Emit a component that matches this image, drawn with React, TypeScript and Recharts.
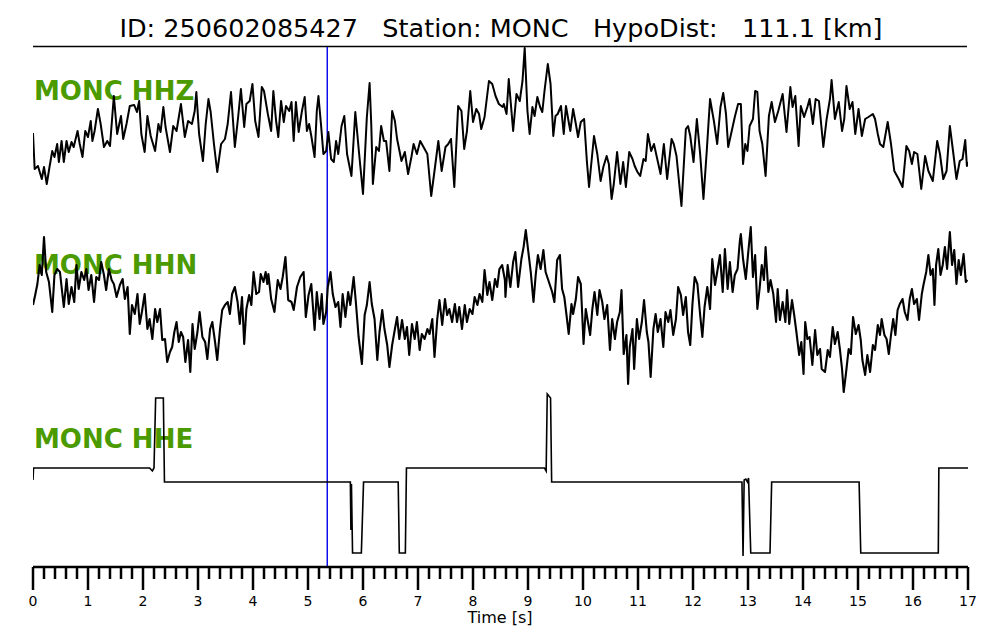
import { ComposedChart, Line, XAxis, YAxis, ReferenceLine, Customized } from 'recharts';

// MONC seismogram, event 250602085427, 17 s window
const stationTitle = 'ID: 250602085427   Station: MONC   HypoDist:   111.1 [km]';
const channelNames = ['MONC HHZ', 'MONC HHN', 'MONC HHE'];
const pickTime = 5.35;
const majorTicks = [0, 1, 2, 3, 4, 5, 6, 7, 8, 9, 10, 11, 12, 13, 14, 15, 16, 17];

// [time s, amplitude]
const hhz: [number, number][] = [
  [0.0, -5], [0.03, -41], [0.09, -38], [0.16, -51], [0.2, -39], [0.25, -56], [0.3, -39], [0.35, -23], [0.39, -29], [0.44, -16],
  [0.47, -34], [0.52, -13], [0.56, -34], [0.61, -13], [0.65, -24], [0.7, -14], [0.74, -19], [0.81, -3], [0.85, -16], [0.9, -29],
  [0.95, -3], [1.0, -9], [1.05, 7], [1.08, -13], [1.12, -3], [1.18, 19], [1.23, 4], [1.29, -19], [1.35, -13], [1.4, -18],
  [1.47, 32], [1.53, -6], [1.6, 12], [1.64, -11], [1.7, 4], [1.76, 22], [1.84, 23], [1.89, 16], [1.93, 27], [1.97, -6],
  [2.03, -24], [2.08, 12], [2.14, -8], [2.22, -23], [2.28, 4], [2.32, -4], [2.37, 21], [2.41, 1], [2.49, -24], [2.55, 2],
  [2.61, -3], [2.69, 24], [2.76, -9], [2.82, 7], [2.89, 4], [2.94, 17], [2.97, 36], [3.02, -6], [3.09, -33], [3.14, 4],
  [3.19, 29], [3.23, 16], [3.29, -16], [3.35, -44], [3.42, -16], [3.49, -11], [3.54, 4], [3.6, 36], [3.67, -19], [3.73, 11],
  [3.78, 39], [3.84, 1], [3.88, 24], [3.94, 27], [3.99, 44], [4.04, 7], [4.1, -9], [4.16, 41], [4.2, 37], [4.27, 14],
  [4.33, -3], [4.37, 37], [4.42, 7], [4.46, -9], [4.51, 27], [4.56, 6], [4.6, 22], [4.66, 17], [4.7, 26], [4.74, -13],
  [4.78, 26], [4.83, -4], [4.89, 17], [4.94, 31], [4.98, -3], [5.02, 4], [5.06, -8], [5.12, -29], [5.16, 17], [5.19, 32],
  [5.24, 1], [5.28, -26], [5.33, -23], [5.37, -4], [5.42, -31], [5.47, -34], [5.51, -13], [5.55, -26], [5.61, 2], [5.66, 12],
  [5.71, -26], [5.79, -48], [5.86, 16], [5.93, -26], [6.0, -66], [6.07, 11], [6.12, 45], [6.15, 4], [6.18, -56], [6.24, -19],
  [6.29, -23], [6.33, 2], [6.38, -13], [6.42, -13], [6.48, -43], [6.53, 17], [6.58, 7], [6.62, -11], [6.7, -33], [6.76, -24],
  [6.82, -46], [6.88, -29], [6.92, -16], [6.98, -26], [7.04, -13], [7.1, -19], [7.17, -26], [7.24, -68], [7.3, -43], [7.37, -13],
  [7.43, -43], [7.5, -19], [7.55, -16], [7.6, -11], [7.66, -59], [7.73, 22], [7.79, 17], [7.84, -21], [7.89, -3], [7.95, 37],
  [8.0, 6], [8.06, 19], [8.11, 14], [8.15, -1], [8.21, 11], [8.29, 47], [8.35, 44], [8.41, 32], [8.47, 24], [8.54, 21],
  [8.56, 24], [8.61, 14], [8.65, 49], [8.73, -3], [8.79, 34], [8.85, 27], [8.9, 47], [8.94, 80], [8.99, 17], [9.03, -6],
  [9.08, 21], [9.12, 12], [9.17, 31], [9.22, 21], [9.26, 16], [9.3, 37], [9.36, 64], [9.41, 44], [9.46, -8], [9.5, 12],
  [9.54, 14], [9.6, 22], [9.65, -6], [9.69, 22], [9.74, 6], [9.77, -3], [9.82, 19], [9.87, 4], [9.91, -9], [9.96, 6],
  [10.02, 9], [10.07, -33], [10.11, -59], [10.15, -36], [10.2, -8], [10.26, -26], [10.32, -53], [10.37, -39], [10.43, -28], [10.47, -36],
  [10.52, -71], [10.56, -56], [10.62, -24], [10.68, -56], [10.73, -34], [10.78, -59], [10.84, -24], [10.9, -31], [10.94, -38], [10.99, -44],
  [11.04, -48], [11.1, -31], [11.14, -33], [11.18, -6], [11.24, -23], [11.29, -16], [11.35, -31], [11.41, -46], [11.47, -16], [11.53, -51],
  [11.61, -11], [11.65, -16], [11.7, -28], [11.79, -78], [11.87, -1], [11.91, 2], [11.95, -8], [12.01, -34], [12.07, 9], [12.13, -26],
  [12.19, -71], [12.25, -23], [12.31, 29], [12.38, 7], [12.44, -16], [12.5, 21], [12.55, 35], [12.6, 14], [12.64, -19], [12.7, -4],
  [12.76, 11], [12.82, 24], [12.87, 24], [12.91, -36], [12.95, -16], [12.99, -23], [13.03, 2], [13.09, 9], [13.13, 37], [13.17, 36],
  [13.21, -3], [13.26, -16], [13.32, -48], [13.38, 12], [13.43, 26], [13.49, 6], [13.55, 17], [13.63, 34], [13.7, -4], [13.77, 41],
  [13.81, 21], [13.86, 32], [13.92, -18], [13.96, 22], [14.02, 11], [14.08, 21], [14.12, 29], [14.18, 4], [14.23, 29], [14.29, 27],
  [14.37, -19], [14.43, 9], [14.49, 29], [14.52, 48], [14.58, 9], [14.65, 26], [14.71, -3], [14.75, 9], [14.79, 42], [14.85, 19],
  [14.9, 26], [14.95, -6], [15.01, 19], [15.07, -8], [15.13, 9], [15.19, 11], [15.27, 14], [15.31, 9], [15.36, -6], [15.4, -16],
  [15.46, -19], [15.54, 6], [15.6, -16], [15.66, -43], [15.74, -51], [15.81, -59], [15.88, -18], [15.93, -23], [15.98, -36], [16.02, -24],
  [16.08, -26], [16.15, -61], [16.22, -28], [16.28, -43], [16.36, -53], [16.44, -13], [16.49, -26], [16.55, -51], [16.61, -43], [16.67, 2],
  [16.73, -24], [16.79, -51], [16.85, -33], [16.9, -31], [16.95, -12], [16.98, -38], [16.99, -34],
];

const hhn: [number, number][] = [
  [0.0, 5], [0.04, 15], [0.08, 26], [0.12, 45], [0.16, 35], [0.2, 73], [0.24, 38], [0.29, 28], [0.35, -2], [0.39, 35],
  [0.44, 41], [0.49, 38], [0.53, 18], [0.56, 3], [0.61, 31], [0.65, 6], [0.7, 23], [0.75, 8], [0.79, 45], [0.83, 21],
  [0.88, 38], [0.93, 30], [0.97, 41], [1.01, 20], [1.06, 35], [1.11, 8], [1.15, 33], [1.2, 30], [1.24, 48], [1.29, 35],
  [1.33, 20], [1.38, 41], [1.43, 30], [1.47, 26], [1.52, 13], [1.58, 25], [1.63, 31], [1.67, 11], [1.72, 23], [1.76, -24],
  [1.8, 5], [1.85, -4], [1.9, 16], [1.94, -14], [1.98, -2], [2.03, 16], [2.08, -19], [2.12, -9], [2.17, -29], [2.22, 1],
  [2.26, -12], [2.31, 1], [2.35, -30], [2.4, -29], [2.44, -52], [2.49, -42], [2.53, -37], [2.57, -22], [2.61, -12], [2.65, -32],
  [2.69, -22], [2.73, -27], [2.77, -52], [2.82, -30], [2.86, -62], [2.9, -14], [2.94, -39], [2.99, -22], [3.03, -2], [3.08, -27],
  [3.13, -32], [3.17, -49], [3.22, -19], [3.26, -12], [3.31, -32], [3.35, -50], [3.4, -19], [3.44, 0], [3.49, 5], [3.54, 8],
  [3.58, -4], [3.62, 16], [3.67, 23], [3.72, 8], [3.76, -14], [3.8, 13], [3.84, -34], [3.88, 1], [3.93, 15], [3.97, 5],
  [4.01, 38], [4.06, 16], [4.11, 18], [4.14, 36], [4.19, 28], [4.23, 38], [4.26, 26], [4.28, 36], [4.33, 11], [4.39, -2],
  [4.45, 30], [4.5, 21], [4.54, 33], [4.59, 53], [4.64, 10], [4.7, 8], [4.74, 0], [4.8, 23], [4.86, 33], [4.92, 38],
  [4.96, -7], [5.01, 15], [5.06, 26], [5.12, -20], [5.16, 18], [5.21, -9], [5.25, 16], [5.28, -14], [5.33, -2], [5.36, 23],
  [5.41, 38], [5.45, 16], [5.5, 3], [5.55, 8], [5.59, -17], [5.63, 16], [5.68, -7], [5.73, 18], [5.77, 5], [5.83, 33],
  [5.87, 8], [5.92, -27], [5.98, -54], [6.03, -5], [6.07, 5], [6.12, 28], [6.16, 6], [6.21, -9], [6.26, -50], [6.3, -22],
  [6.35, 0], [6.39, -19], [6.44, -35], [6.48, -57], [6.53, -35], [6.58, -19], [6.62, -7], [6.66, -29], [6.71, -10], [6.76, -29],
  [6.8, -17], [6.84, -45], [6.89, -14], [6.94, -29], [6.98, -12], [7.03, -40], [7.07, -24], [7.12, -29], [7.17, -19], [7.21, -24],
  [7.26, -9], [7.3, -47], [7.35, -9], [7.39, 10], [7.44, -15], [7.49, 11], [7.53, -5], [7.57, 1], [7.62, -12], [7.67, 6],
  [7.71, -12], [7.75, 3], [7.8, -19], [7.85, 5], [7.89, -12], [7.94, 1], [7.99, -4], [8.03, 13], [8.08, 5], [8.12, 16],
  [8.17, 8], [8.21, 40], [8.26, 15], [8.3, 28], [8.35, 10], [8.4, 31], [8.44, 23], [8.48, 41], [8.53, 45], [8.58, 30],
  [8.59, 13], [8.63, 45], [8.68, 23], [8.73, 48], [8.77, 58], [8.82, 23], [8.88, 51], [8.92, 63], [8.96, 80], [9.0, 61],
  [9.05, 38], [9.1, 8], [9.14, 35], [9.18, 55], [9.23, 41], [9.28, 60], [9.32, 38], [9.38, 28], [9.44, 18], [9.48, 8],
  [9.53, 50], [9.58, 55], [9.62, 21], [9.66, 13], [9.7, -5], [9.74, -24], [9.79, 6], [9.82, -4], [9.87, 11], [9.91, 33],
  [9.96, 26], [10.01, -34], [10.05, 1], [10.09, -12], [10.13, -25], [10.17, 1], [10.21, 18], [10.26, -5], [10.3, 20], [10.35, 8],
  [10.39, -9], [10.44, 5], [10.49, -40], [10.53, -9], [10.58, -29], [10.62, -12], [10.67, -2], [10.7, 20], [10.74, -44], [10.79, -25],
  [10.82, -74], [10.85, -37], [10.9, -19], [10.93, -59], [10.98, -9], [11.02, -29], [11.07, -12], [11.11, 10], [11.16, -22], [11.19, -32],
  [11.23, -67], [11.28, -19], [11.32, -4], [11.36, -22], [11.41, -9], [11.46, -37], [11.5, -2], [11.55, -12], [11.59, 0], [11.64, -25],
  [11.69, -9], [11.73, 23], [11.78, 15], [11.82, -5], [11.87, 13], [11.91, -22], [11.95, -35], [11.99, 6], [12.03, 33], [12.08, 26],
  [12.13, -5], [12.17, -27], [12.21, 3], [12.26, 23], [12.31, 1], [12.35, 51], [12.4, 25], [12.44, 38], [12.49, 55], [12.54, 18],
  [12.58, 61], [12.63, 21], [12.67, 48], [12.72, 18], [12.76, 35], [12.81, 41], [12.85, 68], [12.87, 76], [12.91, 51], [12.96, 31],
  [13.01, 61], [13.05, 83], [13.09, 33], [13.13, 55], [13.17, 1], [13.21, 21], [13.25, 45], [13.29, 30], [13.32, 63], [13.37, 18],
  [13.41, 30], [13.46, 16], [13.51, -12], [13.54, 21], [13.58, -10], [13.63, 8], [13.68, -12], [13.71, 20], [13.75, -14], [13.8, 10],
  [13.84, -5], [13.88, -22], [13.93, -45], [13.97, -32], [14.01, -64], [14.04, -12], [14.08, -29], [14.12, -27], [14.17, -55], [14.22, -20],
  [14.26, -45], [14.31, -39], [14.34, -59], [14.4, -62], [14.45, -40], [14.49, -47], [14.54, -17], [14.58, -34], [14.63, -22], [14.67, -39],
  [14.71, -59], [14.74, -82], [14.78, -64], [14.83, -39], [14.87, -44], [14.91, -7], [14.96, -24], [15.01, -15], [15.05, -30], [15.08, -50],
  [15.13, -65], [15.17, -45], [15.22, -62], [15.27, -35], [15.31, -40], [15.36, -15], [15.4, -25], [15.43, -9], [15.48, -25], [15.52, -29],
  [15.56, -44], [15.6, -25], [15.64, -9], [15.68, -25], [15.72, 0], [15.76, 6], [15.81, 11], [15.85, -2], [15.9, -10], [15.94, 11],
  [15.98, 21], [16.02, 6], [16.07, 11], [16.11, -10], [16.16, 16], [16.19, 25], [16.24, 38], [16.28, 55], [16.32, 35], [16.36, 41],
  [16.39, 5], [16.42, 45], [16.46, 61], [16.5, 35], [16.54, 45], [16.58, 63], [16.62, 41], [16.67, 78], [16.71, 45], [16.75, 60],
  [16.79, 26], [16.83, 50], [16.87, 35], [16.92, 56], [16.96, 28], [16.99, 30],
];

const hhe: [number, number][] = [
  [0.0, 2], [0.01, 14], [2.12, 14], [2.17, 11], [2.2, 14], [2.23, 84], [2.37, 84], [2.39, 0], [5.77, 0], [5.78, -48],
  [5.79, -2], [5.81, -71], [5.97, -71], [6.01, 0], [6.64, 0], [6.66, -71], [6.77, -71], [6.79, 14], [9.3, 14], [9.33, 11],
  [9.35, 88], [9.41, 84], [9.43, 0], [12.89, 0], [12.91, -74], [12.93, 2], [12.96, 3], [12.99, 0], [13.01, 4], [13.05, -71],
  [13.4, -71], [13.43, 0], [15.02, 0], [15.05, -71], [16.46, -71], [16.47, 14], [17.0, 14],
];

const toRows = (pairs: [number, number][]) => pairs.map(([t, v]) => ({ t, v }));
const zRows = toRows(hhz);
const nRows = toRows(hhn);
const eRows = toRows(hhe);

// 0.2 s minor ticks between the labelled seconds
const allTicks = Array.from({ length: 86 }, (_, i) => i / 5);

const FONT = '"DejaVu Sans", sans-serif';

const TimeTick = (props: any) => {
  const { x, y, payload } = props;
  const major = majorTicks.includes(payload.value);
  return (
    <g>
      <line x1={x} x2={x} y1={y} y2={y + (major ? 23 : 12)} stroke="#000" strokeWidth={2.5} />
      {major && (
        <text x={x} y={y + 39} textAnchor="middle" fontSize={14} fontFamily={FONT} fill="#000">
          {payload.value}
        </text>
      )}
    </g>
  );
};

const Decorations = () => (
  <g>
    <text x={501} y={37} textAnchor="middle" fontSize={25.5} fontFamily={FONT} fill="#000" style={{ whiteSpace: 'pre' }}>
      {stationTitle}
    </text>
    <line x1={33} x2={967} y1={46.5} y2={46.5} stroke="#000" strokeWidth={1.5} />
    {channelNames.map((name, i) => (
      <text key={name} x={34} y={[100, 274, 448][i]} fontSize={26} fontWeight="bold" fontFamily={FONT} fill="#4b9b00">
        {name}
      </text>
    ))}
    <text x={500} y={623} textAnchor="middle" fontSize={16} fontFamily={FONT} fill="#000">
      Time [s]
    </text>
  </g>
);

export default function App() {
  return (
    <div style={{ position: 'absolute', left: 0, top: 0, width: 1000, height: 640, background: '#fff' }}>
      <ComposedChart width={1000} height={640} margin={{ top: 47, right: 32, left: 33, bottom: 0 }}>
        <Customized component={Decorations} />
        <XAxis
          type="number"
          dataKey="t"
          domain={[0, 17]}
          ticks={allTicks}
          interval={0}
          allowDataOverflow
          height={73}
          tickSize={0}
          tickMargin={0}
          tickLine={false}
          axisLine={{ stroke: '#000', strokeWidth: 2.5 }}
          tick={<TimeTick />}
        />
        <YAxis yAxisId="z" hide type="number" domain={[-439, 81]} allowDataOverflow />
        <YAxis yAxisId="n" hide type="number" domain={[-257, 263]} allowDataOverflow />
        <YAxis yAxisId="e" hide type="number" domain={[-85, 435]} allowDataOverflow />
        <ReferenceLine yAxisId="z" x={pickTime} stroke="#0000ee" strokeWidth={1.4} />
        <Line yAxisId="z" data={zRows} dataKey="v" type="linear" stroke="#000" strokeWidth={2} strokeLinejoin="round" dot={false} isAnimationActive={false} />
        <Line yAxisId="n" data={nRows} dataKey="v" type="linear" stroke="#000" strokeWidth={2.1} strokeLinejoin="round" dot={false} isAnimationActive={false} />
        <Line yAxisId="e" data={eRows} dataKey="v" type="linear" stroke="#000" strokeWidth={1.6} dot={false} isAnimationActive={false} />
      </ComposedChart>
    </div>
  );
}
